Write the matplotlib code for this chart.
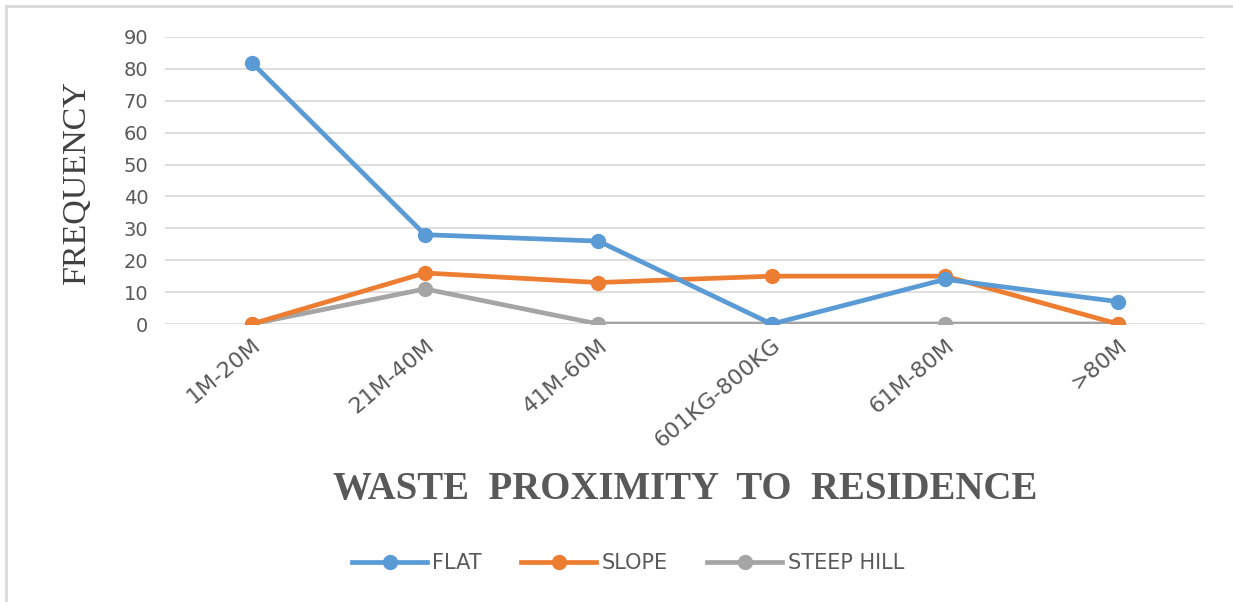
import matplotlib.pyplot as plt
from matplotlib.lines import Line2D

categories = ['1M-20M', '21M-40M', '41M-60M', '601KG-800KG', '61M-80M', '>80M']
flat = [82, 28, 26, 0, 14, 7]
slope = [0, 16, 13, 15, 15, 0]
steep_hill = [0, 11, 0, 0, 0, 0]
y_ticks = [0, 10, 20, 30, 40, 50, 60, 70, 80, 90]

fig = plt.figure(figsize=(12.33, 6.02), dpi=100)
ax = fig.add_axes([165 / 1233, 1 - 324 / 602, (1205 - 165) / 1233, (324 - 37) / 602])

x = list(range(len(categories)))
series = [(flat, '#5B9BD5', 'FLAT'), (slope, '#ED7D31', 'SLOPE'), (steep_hill, '#A5A5A5', 'STEEP HILL')]
# draw in reverse so FLAT ends up on top
for vals, col, name in reversed(series):
    ax.plot(x, vals, color=col, lw=3.4, marker='o', ms=10, label=name, solid_capstyle='round')

ax.set_xlim(-0.5, len(categories) - 0.5)
ax.set_ylim(0, 90)
ax.set_yticks(y_ticks)
ax.set_xticks(x)
ax.set_xticklabels(categories, rotation=40, ha='right', rotation_mode='anchor',
                   fontsize=16, color='#595959', family='DejaVu Sans')
ax.tick_params(axis='y', labelsize=14, labelcolor='#595959', length=0, pad=12)
ax.tick_params(axis='x', length=0, pad=8)
ax.grid(axis='y', color='#D9D9D9', lw=1.2)
ax.set_axisbelow(True)
for s in ax.spines.values():
    s.set_visible(False)

fig.text(77 / 1233, 1 - 182 / 602, 'FREQUENCY', rotation=90, ha='center', va='center',
         fontsize=24.5, family='Liberation Serif', color='#404040')
fig.text(685 / 1233, 1 - 490 / 602, 'WASTE  PROXIMITY  TO  RESIDENCE', ha='center', va='center',
         fontsize=28, fontweight='bold', family='Liberation Serif', color='#595959')

handles = [Line2D([], [], color=c, lw=3.4, marker='o', ms=10) for _, c, _ in series]
leg = fig.legend(handles, [n for _, _, n in series], loc='center', bbox_to_anchor=(628 / 1233, 1 - 563 / 602),
                 ncol=3, frameon=False, handlelength=3.6, columnspacing=1.9, handletextpad=0.25,
                 prop={'family': 'DejaVu Sans', 'size': 15})
for t in leg.get_texts():
    t.set_color('#595959')

# chart area border (top and left visible)
fig.add_artist(Line2D([6 / 1233, 6 / 1233], [0, 1 - 6 / 602], color='#D9D9D9', lw=2))
fig.add_artist(Line2D([6 / 1233, 1], [1 - 6 / 602, 1 - 6 / 602], color='#D9D9D9', lw=2))

fig.savefig('out.png', dpi=100)
